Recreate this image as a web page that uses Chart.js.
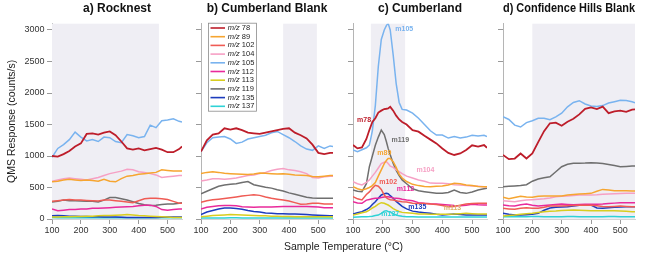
<!DOCTYPE html>
<html>
<head>
<meta charset="utf-8">
<script src="https://cdn.jsdelivr.net/npm/chart.js@4.4.1/dist/chart.umd.min.js"></script>
<style>
html, body { margin: 0; padding: 0; background: #fff; }
#wrap { position: relative; width: 649px; height: 253px; overflow: hidden; }
#wrap canvas { position: absolute; left: 0; top: 0; }
#xtitle {
    position: absolute; left: 52px; width: 583px; top: 240px;
    text-align: center; color: #222;
    font: 10.5px 'Liberation Sans', Arial, sans-serif;
}
</style>
</head>
<body>
<div id="wrap">
    <canvas id="panel-a" width="649" height="253"></canvas>
    <canvas id="panel-b" width="649" height="253"></canvas>
    <canvas id="panel-c" width="649" height="253"></canvas>
    <canvas id="panel-d" width="649" height="253"></canvas>
    <div id="xtitle">Sample Temperature (°C)</div>
</div>
<script>
// m/z yang diukur (urutan sama dengan baris data di bawah)
const masses = [78, 89, 102, 104, 105, 112, 113, 119, 135, 137];
const massColors = ['#bd1d2a', '#f6a530', '#ef5b54', '#f6a0c4', '#79b3ef',
                    '#e92a9b', '#d8cd1f', '#6f6f6f', '#1d3cbd', '#2fd2d6'];

// Tick sumbu
const xTickValues = [100, 200, 300, 400, 500];
const yTickValues = [0, 500, 1000, 1500, 2000, 2500, 3000];

// Suhu sampel (°C)
const tempGrid = [100, 120, 140, 160, 180, 200, 220, 240, 260, 280, 300, 320,
                  340, 360, 380, 400, 420, 440, 460, 480, 500, 520, 540, 550];
const cumberlandTemps = [100, 115, 130, 145, 155, 165, 175, 185, 195, 205, 212, 218,
                         225, 235, 245, 255, 265, 280, 300, 320, 340, 360, 380, 400,
                         420, 440, 460, 480, 500, 520, 540, 550];

// a) Rocknest (counts/s)
const rocknestValues = [
    [1000, 990, 1030, 1080, 1150, 1200, 1350, 1360, 1340, 1370, 1390, 1330, 1230, 1120, 1100, 1120, 1090, 1110, 1130, 1100, 1060, 1060, 1110, 1150], // 78
    [590, 600, 620, 630, 620, 610, 620, 610, 600, 630, 600, 590, 640, 680, 690, 710, 720, 730, 740, 780, 770, 760, 760, 760], // 89
    [280, 290, 300, 310, 300, 300, 295, 290, 285, 300, 300, 290, 280, 270, 260, 290, 320, 330, 330, 320, 310, 280, 250, 250], // 102
    [600, 620, 640, 650, 640, 630, 620, 640, 660, 690, 720, 740, 760, 790, 780, 750, 740, 720, 700, 660, 670, 680, 690, 690], // 104
    [980, 1120, 1180, 1260, 1380, 1300, 1240, 1260, 1230, 1300, 1290, 1230, 1210, 1340, 1320, 1290, 1310, 1490, 1450, 1560, 1570, 1590, 1550, 1540], // 105
    [160, 130, 140, 150, 150, 160, 160, 170, 170, 175, 180, 185, 190, 195, 200, 210, 220, 220, 200, 150, 140, 150, 160, 160], // 112
    [30, 30, 35, 35, 40, 40, 45, 45, 50, 55, 55, 60, 65, 70, 65, 55, 50, 45, 40, 35, 30, 25, 25, 25], // 113
    [270, 280, 300, 290, 290, 285, 280, 280, 270, 300, 340, 340, 320, 300, 275, 245, 225, 215, 220, 230, 240, 240, 250, 260], // 119
    [50, 55, 50, 45, 45, 40, 40, 35, 35, 30, 30, 30, 28, 25, 25, 25, 25, 25, 25, 28, 30, 30, 30, 30], // 135
    [22, 20, 21, 19, 20, 22, 21, 20, 19, 18, 20, 21, 22, 20, 19, 20, 21, 20, 19, 20, 21, 20, 20, 20]  // 137
];

// b) Cumberland Blank
const cumberlandBlankValues = [
    [1070, 1250, 1340, 1360, 1440, 1420, 1440, 1410, 1370, 1360, 1350, 1370, 1390, 1410, 1430, 1440, 1370, 1330, 1280, 1180, 1050, 1030, 1050, 1050],
    [720, 740, 750, 740, 725, 720, 715, 710, 705, 715, 730, 725, 720, 715, 720, 710, 700, 695, 690, 675, 670, 680, 690, 690],
    [267, 290, 305, 315, 325, 337, 350, 365, 375, 385, 375, 350, 330, 315, 300, 285, 260, 235, 240, 250, 250, 240, 240, 240],
    [605, 620, 640, 640, 630, 640, 650, 670, 690, 700, 720, 740, 770, 790, 800, 780, 770, 750, 720, 660, 650, 670, 680, 680],
    [1070, 1210, 1290, 1300, 1310, 1270, 1200, 1220, 1270, 1290, 1310, 1330, 1370, 1390, 1340, 1290, 1230, 1160, 1110, 1090, 1160, 1120, 1160, 1150],
    [160, 185, 200, 210, 215, 215, 210, 195, 190, 185, 190, 190, 190, 195, 200, 200, 200, 200, 198, 195, 190, 180, 177, 177],
    [37, 45, 55, 60, 65, 70, 68, 62, 58, 55, 52, 50, 45, 42, 40, 38, 37, 37, 36, 36, 37, 37, 37, 37],
    [400, 440, 480, 520, 540, 550, 560, 580, 595, 545, 525, 505, 490, 465, 445, 415, 392, 370, 345, 335, 330, 330, 330, 330],
    [70, 110, 135, 160, 175, 175, 165, 155, 135, 120, 110, 95, 90, 85, 82, 80, 78, 75, 70, 65, 60, 55, 52, 52],
    [15, 15, 16, 17, 17, 18, 18, 17, 16, 16, 15, 15, 15, 14, 14, 14, 14, 15, 15, 15, 15, 15, 15, 15]
];

// c) Cumberland (pakai cumberlandTemps)
const cumberlandValues = [
    [1174, 1121, 1137, 1270, 1412, 1540, 1600, 1690, 1720, 1745, 1750, 1756, 1780, 1720, 1640, 1580, 1540, 1500, 1410, 1386, 1320, 1260, 1200, 1120, 1050, 1016, 1040, 1095, 1170, 1150, 1174, 1130],
    [513, 480, 460, 480, 500, 530, 580, 680, 780, 880, 930, 960, 960, 910, 820, 710, 650, 595, 550, 530, 515, 513, 520, 524, 540, 566, 560, 540, 530, 515, 513, 510],
    [354, 320, 302, 390, 430, 487, 535, 520, 470, 380, 340, 320, 305, 300, 290, 280, 275, 270, 250, 248, 245, 240, 230, 215, 196, 200, 220, 238, 245, 250, 250, 250],
    [592, 560, 540, 580, 620, 680, 740, 810, 880, 900, 910, 880, 840, 820, 780, 750, 720, 680, 650, 620, 600, 570, 566, 566, 560, 545, 540, 530, 524, 520, 513, 510],
    [1095, 1070, 1100, 1130, 1174, 1400, 1800, 2420, 2850, 3000, 3070, 3105, 3000, 2600, 2150, 1850, 1740, 1730, 1680, 1600, 1500, 1400, 1333, 1333, 1285, 1310, 1285, 1300, 1330, 1317, 1330, 1310],
    [275, 255, 250, 300, 310, 320, 328, 330, 340, 350, 354, 354, 345, 335, 330, 325, 315, 302, 290, 260, 249, 242, 238, 230, 222, 215, 212, 220, 233, 225, 222, 222],
    [63, 80, 100, 116, 140, 175, 200, 235, 259, 250, 235, 222, 200, 165, 140, 120, 105, 98, 90, 80, 79, 76, 74, 74, 74, 78, 85, 90, 84, 80, 79, 79],
    [460, 440, 434, 560, 830, 1000, 1170, 1300, 1410, 1340, 1230, 1121, 1020, 883, 770, 690, 620, 560, 480, 450, 434, 420, 407, 407, 420, 460, 420, 407, 430, 460, 480, 490],
    [79, 100, 116, 150, 180, 230, 275, 330, 381, 400, 407, 400, 370, 330, 280, 240, 200, 160, 125, 110, 100, 90, 75, 63, 70, 79, 70, 63, 63, 65, 63, 63],
    [26, 30, 34, 37, 40, 45, 55, 63, 90, 125, 132, 120, 116, 80, 63, 50, 42, 37, 35, 33, 32, 30, 30, 30, 30, 30, 30, 30, 30, 30, 30, 30]
];

// d) Confidence Hills Blank
const confidenceBlankValues = [
    [1016, 950, 960, 1040, 960, 1040, 1220, 1395, 1520, 1530, 1480, 1545, 1590, 1660, 1750, 1770, 1745, 1783, 1680, 1710, 1720, 1700, 1735, 1740],
    [344, 320, 340, 360, 350, 345, 360, 365, 365, 365, 365, 380, 390, 397, 402, 407, 440, 470, 460, 450, 450, 448, 444, 444],
    [169, 160, 153, 170, 180, 172, 169, 185, 206, 206, 206, 210, 215, 217, 217, 217, 210, 200, 196, 200, 206, 200, 196, 196],
    [291, 282, 275, 290, 302, 306, 312, 320, 335, 354, 360, 365, 372, 381, 381, 381, 385, 392, 397, 400, 405, 407, 407, 407],
    [1624, 1580, 1490, 1460, 1530, 1560, 1600, 1598, 1575, 1620, 1680, 1780, 1850, 1878, 1825, 1795, 1785, 1800, 1840, 1862, 1885, 1880, 1860, 1846],
    [222, 210, 206, 225, 238, 220, 206, 215, 222, 230, 238, 232, 228, 230, 233, 235, 236, 238, 245, 252, 259, 259, 259, 259],
    [48, 55, 63, 75, 85, 92, 105, 116, 122, 127, 135, 140, 143, 140, 135, 132, 132, 132, 132, 132, 128, 122, 116, 116],
    [513, 520, 524, 530, 545, 600, 635, 655, 670, 750, 830, 870, 883, 885, 888, 894, 890, 880, 865, 850, 830, 835, 841, 841],
    [90, 75, 65, 63, 68, 74, 90, 140, 175, 185, 190, 196, 205, 220, 222, 222, 175, 172, 180, 185, 192, 196, 196, 196],
    [37, 36, 35, 36, 37, 38, 38, 37, 36, 36, 37, 38, 38, 37, 36, 36, 37, 37, 38, 38, 37, 37, 36, 36]
];

// Rentang suhu yang diarsir per panel
const shadeFrom = [100, 380, 160, 200];
const shadeTo = [470, 495, 275, 550];

// Label langsung pada panel c
const tagMass = [105, 78, 119, 89, 104, 102, 112, 135, 113, 137];
const tagTemp = [272, 137, 259, 205, 343, 218, 276, 316, 434, 225];
const tagValue = [3015, 1571, 1254, 1047, 778, 587, 476, 190, 175, 79];

const FONT = "'Liberation Sans', Arial, Helvetica, sans-serif";

// Posisi area plot tiap panel (px)
const plotLeft = [52, 201, 353, 503];
const plotRight = [182, 333, 487, 635];

// Warna label m113 sedikit lebih pucat di gambar asli
function tagColor(mass) {
    if (mass === 113) return '#dcb46c';
    return massColors[masses.indexOf(mass)];
}

// Arsiran latar
const shadePlugin = {
    id: 'shade',
    beforeDatasetsDraw(chart, args, opts) {
        const { ctx, chartArea, scales: { x } } = chart;
        const x0 = x.getPixelForValue(opts.from);
        const x1 = x.getPixelForValue(opts.to);
        ctx.save();
        ctx.fillStyle = '#efeef4';
        ctx.fillRect(x0, chartArea.top, x1 - x0, chartArea.bottom - chartArea.top);
        ctx.restore();
    }
};

// Legenda dengan "m/z" miring (panel b)
const mzLegendPlugin = {
    id: 'mzLegend',
    afterDraw(chart, args, opts) {
        if (!opts.show) return;
        const { ctx, chartArea } = chart;
        const left = chartArea.left + 7;
        const top = chartArea.top - 1;
        const rowH = 8.7;
        ctx.save();
        ctx.fillStyle = '#fff';
        ctx.fillRect(left, top, 48, 88);
        ctx.strokeStyle = '#8a8a8a';
        ctx.lineWidth = 0.8;
        ctx.strokeRect(left + 0.5, top + 0.5, 48, 88);
        ctx.textBaseline = 'middle';
        masses.forEach((m, i) => {
            const y = top + 5.3 + i * rowH;
            ctx.strokeStyle = massColors[i];
            ctx.lineWidth = 1.6;
            ctx.beginPath();
            ctx.moveTo(left + 2.5, y);
            ctx.lineTo(left + 17, y);
            ctx.stroke();
            ctx.fillStyle = '#222';
            ctx.font = 'italic 7.5px ' + FONT;
            ctx.fillText('m/z', left + 19.7, y);
            const w = ctx.measureText('m/z').width;
            ctx.font = '7.5px ' + FONT;
            ctx.fillText(' ' + m, left + 19.7 + w, y);
        });
        ctx.restore();
    }
};

// Label berwarna di panel c
const massTagPlugin = {
    id: 'massTags',
    afterDatasetsDraw(chart, args, opts) {
        if (!opts.show) return;
        const { ctx, scales: { x, y } } = chart;
        ctx.save();
        ctx.font = 'bold 7px ' + FONT;
        ctx.textAlign = 'center';
        ctx.textBaseline = 'middle';
        tagMass.forEach((m, i) => {
            ctx.fillStyle = tagColor(m);
            ctx.fillText('m' + m, x.getPixelForValue(tagTemp[i]), y.getPixelForValue(tagValue[i]));
        });
        ctx.restore();
    }
};

function buildPanel(index, canvasId, title, temps, values) {
    const yWidth = index === 0 ? 52 : 10;
    const datasets = values.map((row, i) => ({
        label: 'm/z ' + masses[i],
        data: row,
        borderColor: massColors[i],
        borderWidth: masses[i] === 78 ? 1.8 : 1.5,
        pointRadius: 0,
        tension: 0,
        fill: false
    }));

    return new Chart(document.getElementById(canvasId), {
        type: 'line',
        data: { labels: temps, datasets: datasets },
        options: {
            responsive: false,
            animation: false,
            devicePixelRatio: 1,
            layout: {
                padding: { left: plotLeft[index] - yWidth, right: 649 - plotRight[index], top: 0, bottom: 0 }
            },
            scales: {
                x: {
                    type: 'linear',
                    min: 100,
                    max: 550,
                    afterBuildTicks: s => { s.ticks = xTickValues.map(v => ({ value: v })); },
                    afterFit: s => { s.height = 34; },
                    ticks: { autoSkip: false, maxRotation: 0, padding: 1.5, color: '#333', font: { family: FONT, size: 9 } },
                    grid: { drawOnChartArea: false, tickLength: 5, color: '#9a9a9a' },
                    border: { color: '#d4d4d4' }
                },
                y: {
                    min: 0,
                    max: 3100,
                    afterBuildTicks: s => { s.ticks = yTickValues.map(v => ({ value: v })); },
                    afterFit: s => { s.width = yWidth; },
                    ticks: {
                        autoSkip: false,
                        padding: 2.5,
                        color: '#333',
                        font: { family: FONT, size: 9 },
                        callback: v => index === 0 ? v : ''
                    },
                    grid: { drawOnChartArea: false, tickLength: 5, color: '#9a9a9a' },
                    border: { color: '#b5b5b5' },
                    title: {
                        display: index === 0,
                        text: 'QMS Response (counts/s)',
                        color: '#222',
                        padding: { top: 5.5, bottom: 0 },
                        font: { family: FONT, size: 10.5 }
                    }
                }
            },
            plugins: {
                legend: { display: false },
                tooltip: { enabled: false },
                title: {
                    display: true,
                    text: title,
                    fullSize: false,
                    color: '#111',
                    padding: { top: 1.5, bottom: 7.8 },
                    font: { family: FONT, size: 12, weight: 'bold' }
                },
                shade: { from: shadeFrom[index], to: shadeTo[index] },
                mzLegend: { show: index === 1 },
                massTags: { show: index === 2 }
            }
        },
        plugins: [shadePlugin, mzLegendPlugin, massTagPlugin]
    });
}

document.addEventListener('DOMContentLoaded', function() {
    if (typeof Chart === 'undefined') {
        console.warn('Chart.js not loaded.');
        return;
    }
    buildPanel(0, 'panel-a', 'a) Rocknest', tempGrid, rocknestValues);
    buildPanel(1, 'panel-b', 'b) Cumberland Blank', tempGrid, cumberlandBlankValues);
    buildPanel(2, 'panel-c', 'c) Cumberland', cumberlandTemps, cumberlandValues);
    buildPanel(3, 'panel-d', 'd) Confidence Hills Blank', tempGrid, confidenceBlankValues);
});
</script>
</body>
</html>
